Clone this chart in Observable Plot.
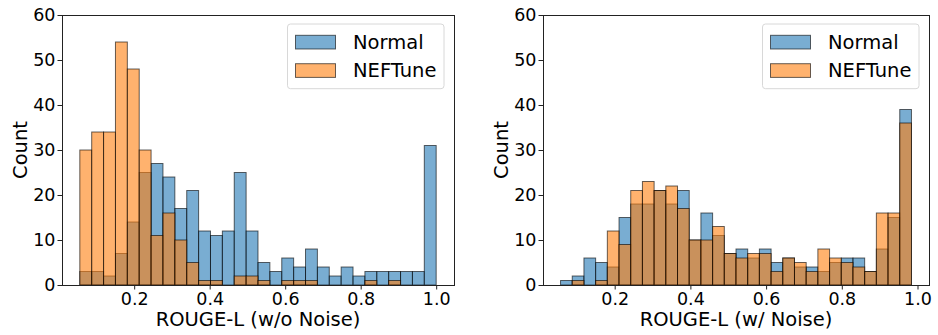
<!DOCTYPE html>
<html><head><meta charset="utf-8">
<script src="https://cdn.jsdelivr.net/npm/d3@7"></script>
<script src="https://cdn.jsdelivr.net/npm/@observablehq/plot@0.6"></script>
<style>
body{margin:0;background:#fff;}
#wrap{display:flex;width:938px;height:335px;}
#wrap svg{display:block;flex:none}
</style></head><body><div id="wrap"></div>
<script>
const seriesNames = ["Normal", "NEFTune"];
const seriesColors = ["#1f77b4", "#ff7f0e"];
const yTicks = [0, 10, 20, 30, 40, 50, 60];
const xTicks = [0.2, 0.4, 0.6, 0.8, 1.0];
const yLabel = "Count";
const xLabels = ["ROUGE-L (w/o Noise)", "ROUGE-L (w/ Noise)"];
// histogram ranges (min, max of data) with 30 bins each
const leftRange = [0.056, 1.0];
const rightRange = [0.057, 0.984];
const leftNormal  = [3,3,2,7,14,25,27,24,17,21,12,11,12,25,12,5,3,6,4,8,4,2,4,2,3,3,3,3,3,31];
const leftNEFTune = [30,34,34,54,48,30,11,16,10,5,1,1,0,2,2,1,0,1,1,1,0,0,0,0,1,0,1,0,0,0];
const rightNormal  = [1,2,6,5,4,15,18,18,21,18,21,10,16,11,7,8,6,8,5,6,4,4,3,5,6,6,3,8,15,39];
const rightNEFTune = [0,1,0,1,12,9,21,23,21,22,17,10,10,13,7,6,7,7,3,6,5,3,8,6,5,4,3,16,16,36];

function toBins(range, counts, series) {
  const w = (range[1] - range[0]) / counts.length;
  return counts.map((c, i) => ({x1: range[0] + i * w, x2: range[0] + (i + 1) * w, y: c, series}));
}

function chart({range, normal, nef, label, width, marginLeft, marginRight}) {
  const span = range[1] - range[0];
  const domain = [range[0] - 0.05 * span, range[1] + 0.05 * span];
  const data = [...toBins(range, normal, seriesNames[0]), ...toBins(range, nef, seriesNames[1])].filter(d => d.y > 0);
  const marginTop = 15, marginBottom = 50, height = 335;
  const svg = Plot.plot({
    width, height, marginLeft, marginRight, marginTop, marginBottom,
    style: {fontFamily: "DejaVu Sans", fontSize: "17.5px", color: "black", background: "white", overflow: "visible"},
    x: {domain, label: null},
    y: {domain: [0, 60], label: null},
    color: {domain: seriesNames, range: seriesColors},
    marks: [
      Plot.rectY(data, {x1: "x1", x2: "x2", y1: 0, y2: "y", fill: "series", fillOpacity: 0.6, stroke: "black", strokeOpacity: 0.6, strokeWidth: 1, inset: 0}),
      Plot.axisX({ticks: xTicks, tickFormat: d3.format(".1f"), tickSize: 4.5, tickPadding: 2.4, fontSize: 17.5, label: null, stroke: "#222"}),
      Plot.axisY({ticks: yTicks, tickFormat: d3.format("d"), tickSize: 4.5, tickPadding: 2.5, fontSize: 17.5, label: null, stroke: "#222"}),
      Plot.frame({stroke: "#222", strokeWidth: 1})
    ]
  });
  const s = d3.select(svg);
  const fl = marginLeft, fr = width - marginRight, ft = marginTop, fb = height - marginBottom;
  // axis titles
  s.append("text").attr("x", (fl + fr) / 2).attr("y", fb + 40.7).attr("text-anchor", "middle")
    .attr("font-size", 19.5).attr("font-family", "DejaVu Sans").attr("fill", "black").text(label);
  s.append("text").attr("transform", `translate(${fl - 35.5},${(ft + fb) / 2}) rotate(-90)`).attr("text-anchor", "middle")
    .attr("font-size", 19.5).attr("font-family", "DejaVu Sans").attr("fill", "black").text(yLabel);
  // legend
  const lx = fr - 166.5, ly = ft + 9;
  const g = s.append("g").attr("text-anchor", "start");
  g.append("rect").attr("x", lx).attr("y", ly).attr("width", 156.5).attr("height", 64.7).attr("rx", 3)
    .attr("fill", "white").attr("fill-opacity", 0.8).attr("stroke", "#d8d8d8").attr("stroke-width", 1);
  seriesNames.forEach((name, i) => {
    g.append("rect").attr("x", lx + 8).attr("y", ly + 11.3 + i * 28.4).attr("width", 40).attr("height", 13.7)
      .attr("fill", seriesColors[i]).attr("fill-opacity", 0.6).attr("stroke", "black").attr("stroke-opacity", 0.6);
    g.append("text").attr("x", lx + 65.5).attr("y", ly + 24.7 + i * 28.4).attr("font-size", 19.5)
      .attr("text-anchor", "start").attr("font-family", "DejaVu Sans").attr("fill", "black").text(name);
  });
  return svg;
}

const wrap = document.getElementById("wrap");
wrap.appendChild(chart({range: leftRange, normal: leftNormal, nef: leftNEFTune, label: xLabels[0], width: 469, marginLeft: 62, marginRight: 15}));
wrap.appendChild(chart({range: rightRange, normal: rightNormal, nef: rightNEFTune, label: xLabels[1], width: 469, marginLeft: 74, marginRight: 9}));
</script></body></html>
